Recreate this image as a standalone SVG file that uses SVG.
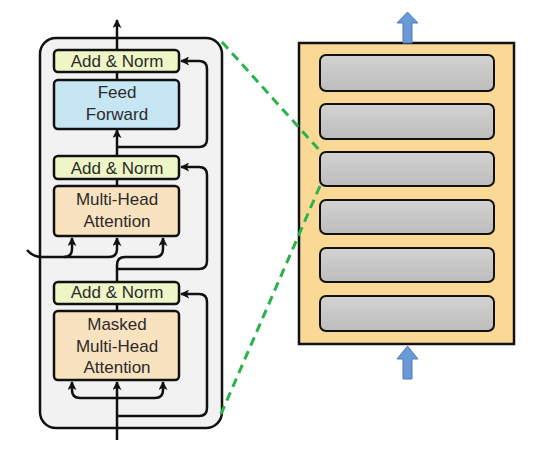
<svg xmlns="http://www.w3.org/2000/svg" width="549" height="471" viewBox="0 0 549 471">
<defs>
<marker id="ah" viewBox="0 0 10 10" refX="9" refY="5" markerWidth="9" markerHeight="9" markerUnits="userSpaceOnUse" orient="auto">
<path d="M0,0 L10,5 L0,10 L2.5,5 z" fill="#111"/>
</marker>
<linearGradient id="gg" x1="0" y1="0" x2="0" y2="1">
<stop offset="0" stop-color="#d3d3d3"/>
<stop offset="1" stop-color="#bcbcbc"/>
</linearGradient>
<style>
.box{stroke:#111;stroke-width:2.5}
.an{fill:#eef5c6}
.ff{fill:#c6e6f4}
.mh{fill:#f9e2bf}
.t{font-family:"Liberation Sans",Arial,sans-serif;font-size:17px;fill:#2b2b2b;text-anchor:middle}
.ln{fill:none;stroke:#111;stroke-width:2.5}
.ar{marker-end:url(#ah)}
.gd{fill:none;stroke:#2bb34a;stroke-width:3;stroke-dasharray:9,6}
.grey{fill:url(#gg);stroke:#111;stroke-width:2}
.blue{fill:#699ad5;stroke:#4d7dbd;stroke-width:1}
</style>
</defs>
<rect x="40" y="38" width="182" height="390" rx="16" fill="#f2f2f2" stroke="#111" stroke-width="2.5"/>
<g id="addnorm3"><rect class="box an" x="54" y="50" width="125" height="22" rx="4"/><text class="t" x="117" y="67">Add &amp; Norm</text></g>
<g id="feedforward"><rect class="box ff" x="54" y="80" width="125" height="49" rx="4"/><text class="t" x="117" y="98">Feed</text><text class="t" x="117" y="120">Forward</text></g>
<g id="addnorm2"><rect class="box an" x="54" y="156" width="125" height="23" rx="4"/><text class="t" x="117" y="174">Add &amp; Norm</text></g>
<g id="multihead"><rect class="box mh" x="54" y="186" width="125" height="50" rx="4"/><text class="t" x="117" y="205">Multi-Head</text><text class="t" x="117" y="227">Attention</text></g>
<g id="addnorm1"><rect class="box an" x="54" y="282" width="125" height="22" rx="4"/><text class="t" x="117" y="298">Add &amp; Norm</text></g>
<g id="masked"><rect class="box mh" x="54" y="311" width="125" height="69" rx="4"/><text class="t" x="117" y="330">Masked</text><text class="t" x="117" y="352">Multi-Head</text><text class="t" x="117" y="373">Attention</text></g>
<g id="stack">
<rect x="299" y="43" width="215" height="301" fill="#fad997" stroke="#111" stroke-width="2.5"/>
<rect class="grey" x="320" y="55" width="174" height="36" rx="6"/>
<rect class="grey" x="320" y="104" width="174" height="35" rx="6"/>
<rect class="grey" x="320" y="152" width="174" height="34" rx="6"/>
<rect class="grey" x="320" y="200" width="174" height="34" rx="6"/>
<rect class="grey" x="320" y="248" width="174" height="34" rx="6"/>
<rect class="grey" x="320" y="296" width="174" height="35" rx="6"/>
</g>
<g id="arrow-out"><polygon class="blue" points="403,43 403,23 397,23 407.5,12 418,23 412,23 412,43"/></g>
<g id="arrow-in"><polygon class="blue" points="403,379 403,359 397,359 407.5,346 418,359 412,359 412,379"/></g>
<g id="connectors">
<path class="ln ar" d="M117,50 V20"/>
<path class="ln" d="M117,80 V72"/>
<path class="ln ar" d="M117,155 V130"/>
<path class="ln ar" d="M117,147 H199 Q207,147 207,139 V69 Q207,61 199,61 H181"/>
<path class="ln" d="M117,186 V179"/>
<path class="ln ar" d="M117,282 V265 Q117,257 125,257 H155 Q163,257 163,249 V238"/>
<path class="ln ar" d="M117,269 H199 Q207,269 207,261 V175 Q207,167 199,167 H181"/>
<path class="ln ar" d="M27,250 Q33,257 42,257 H64 Q72,257 72,249 V238"/>
<path class="ln ar" d="M64,257 H109 Q117,257 117,249 V238"/>
<path class="ln" d="M117,311 V304"/>
<path class="ln ar" d="M117,440 V382"/>
<path class="ln ar" d="M117,398 H80 Q72,398 72,390 V382"/>
<path class="ln ar" d="M117,398 H155 Q163,398 163,390 V382"/>
<path class="ln ar" d="M117,416 H199 Q207,416 207,408 V302 Q207,294 199,294 H181"/>
<path class="gd" d="M222,42 L321,152"/>
<path class="gd" d="M320,186 L221,414"/>
</g>
</svg>
